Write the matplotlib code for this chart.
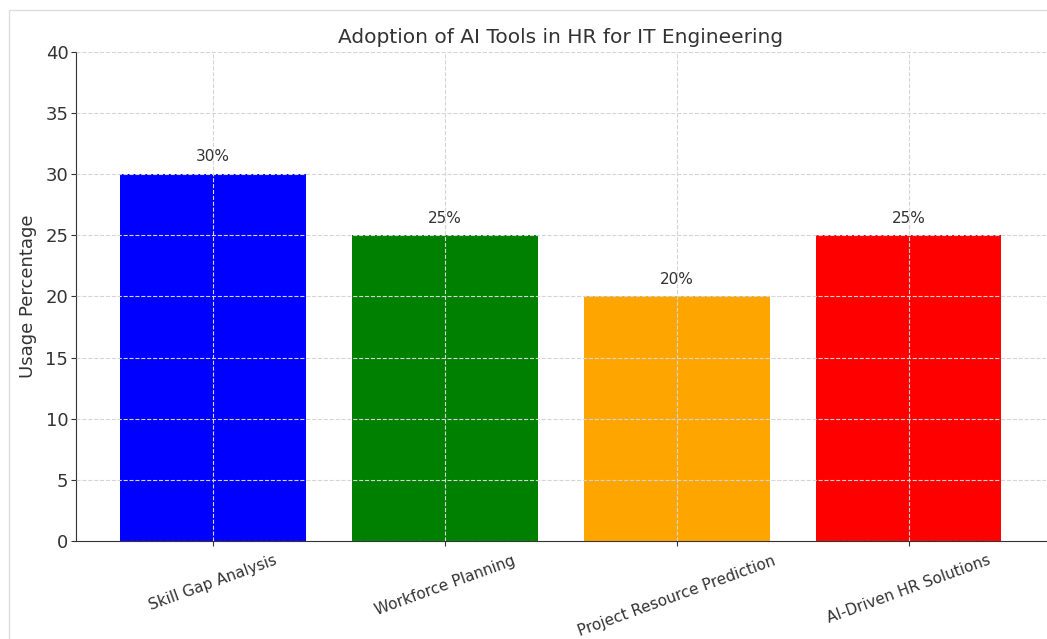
import matplotlib
matplotlib.use("Agg")
import matplotlib.pyplot as plt
from matplotlib.patches import Rectangle

tools = ["Skill Gap Analysis", "Workforce Planning", "Project Resource Prediction", "AI-Driven HR Solutions"]
usage = [30, 25, 20, 25]
bar_colors = ["blue", "green", "orange", "red"]

text_color = "#333333"

fig = plt.figure(figsize=(10.47, 6.39), dpi=100)
ax = fig.add_axes([0.0726, 0.153, 0.926, 0.766])

bars = ax.bar(tools, usage, color=bar_colors, width=0.8)
for bar, val in zip(bars, usage):
    ax.text(bar.get_x() + bar.get_width() / 2, val + 0.8, f"{val}%",
            ha="center", va="bottom", fontsize=11, color=text_color)

ax.set_ylim(0, 40)
ax.set_title("Adoption of AI Tools in HR for IT Engineering", fontsize=14.5, color=text_color, pad=6)
ax.set_ylabel("Usage Percentage", fontsize=13, color=text_color, labelpad=6)
ax.tick_params(axis="y", labelsize=13, colors=text_color, pad=2)
ax.tick_params(axis="x", labelsize=11, colors=text_color, pad=5)
plt.setp(ax.get_xticklabels(), rotation=20)

ax.grid(True, linestyle="--", color="#d5d5d5", linewidth=0.8)
ax.set_axisbelow(False)
for side in ("top", "right"):
    ax.spines[side].set_visible(False)
for side in ("left", "bottom"):
    ax.spines[side].set_color(text_color)

# light frame around the picture
fig.patches.append(Rectangle((0.0086, -0.01), 1.0, 0.994, transform=fig.transFigure,
                             fill=False, edgecolor="#dddddd", linewidth=1))

fig.savefig("out.png", dpi=100)
